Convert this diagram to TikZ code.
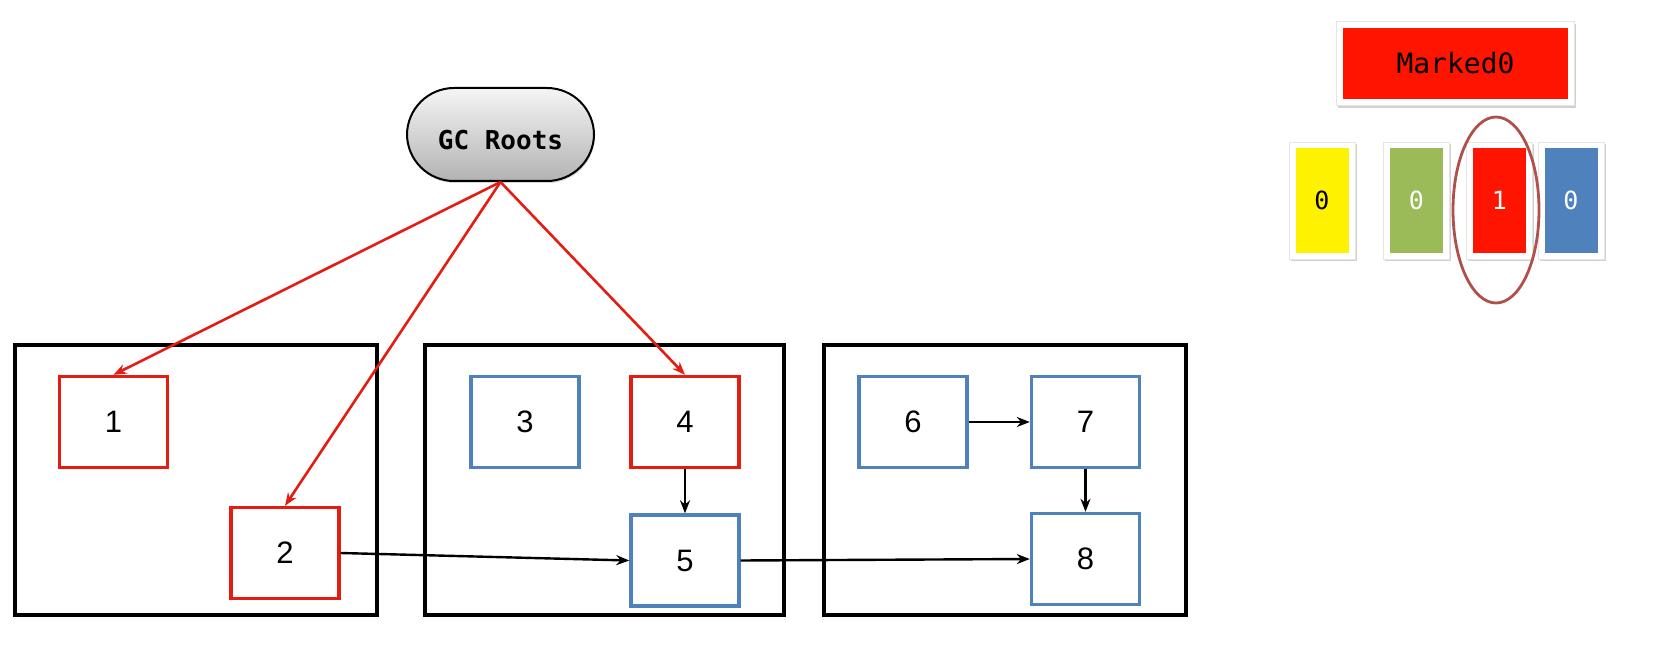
\documentclass[tikz,border=0pt]{standalone}
\usepackage{fontspec}
\setmainfont{Liberation Sans}
\newfontfamily\monofont{DejaVu Sans Mono}
\usetikzlibrary{arrows.meta,shadows}
\definecolor{gcred}{RGB}{228,28,18}
\definecolor{fillred}{RGB}{255,20,0}
\definecolor{gcblue}{RGB}{79,129,189}
\definecolor{gcolive}{RGB}{155,187,89}
\definecolor{gcyellow}{RGB}{255,242,0}
\definecolor{ringcol}{RGB}{175,80,75}
\tikzset{
  region/.style={draw=black,line width=3.8pt,minimum height=270pt},
  obj/.style={draw,line width=3.4pt,minimum width=108pt,minimum height=91pt,font=\fontsize{31}{31}\selectfont,inner sep=0pt},
  live/.style={obj,draw=gcred},
  dead/.style={obj,draw=gcblue},
  refr/.style={draw=gcred,line width=2.6pt,-{Stealth[length=13pt,width=10pt]}},
  refb/.style={draw=black,line width=2.4pt,-{Stealth[length=13pt,width=10pt]}},
  frame/.style={fill=white,draw=white!90!black,line width=0.5pt,drop shadow={shadow xshift=1.5pt,shadow yshift=-2.5pt,opacity=0.35}},
  chip/.style={minimum width=53pt,minimum height=105pt,inner sep=0pt,font=\monofont\fontsize{25}{25}\selectfont},
}
\begin{document}
\begin{tikzpicture}[x=1pt,y=-1pt]
\useasboundingbox[fill=white] (0,0) rectangle (1673,668);
% regions
\node[region,minimum width=362pt] (ra) at (196,480) {};
\node[region,minimum width=359pt] (rb) at (604.5,480) {};
\node[region,minimum width=362pt] (rc) at (1005,480) {};
% objects
\node[live] (n1) at (113.5,422) {1};
\node[live] (n2) at (285,553) {2};
\node[dead] (n3) at (525,422) {3};
\node[live] (n4) at (685,422) {4};
\node[dead] (n5) at (685,560.5) {5};
\node[dead] (n6) at (913,422) {6};
\node[dead] (n7) at (1085.5,422) {7};
\node[dead] (n8) at (1085.5,559) {8};
% GC roots
\node[draw=black,line width=2pt,rounded corners=47pt,minimum width=187pt,minimum height=93pt,
      top color=white!96!black,bottom color=white!70!black,
      drop shadow={shadow xshift=1pt,shadow yshift=-2pt,opacity=0.3},
      text height=30pt,text depth=0pt,
      font=\monofont\bfseries\fontsize{26}{26}\selectfont] (gc) at (500.5,134.5) {GC Roots};
% references
\draw[refr] (gc.south) -- (n1.north);
\draw[refr] (gc.south) -- (n2.north);
\draw[refr] (gc.south) -- (n4.north);
\draw[refb] (n4) -- (n5);
\draw[refb] (n2.east) -- (n5.west);
\draw[refb] (n5.east) -- (n8.west);
\draw[refb] (n6) -- (n7);
\draw[refb] (n7) -- (n8);
% legend
\node[frame,minimum width=238pt,minimum height=84pt] (mf) at (1455.5,63.5) {};
\node[fill=fillred,minimum width=225pt,minimum height=71pt,font=\monofont\fontsize{28}{28}\selectfont] (mk) at (mf) {Marked0};
\node[frame,minimum width=66pt,minimum height=117pt] (fy) at (1322,200.5) {};
\node[chip,fill=gcyellow,text=black] (cy) at (fy) {0};
\node[frame,minimum width=66pt,minimum height=117pt] (fo) at (1416.5,200.5) {};
\node[chip,fill=gcolive,text=white] (co) at (fo) {0};
\node[frame,minimum width=66pt,minimum height=117pt] (fr) at (1499.5,200.5) {};
\node[chip,fill=fillred,text=white] (cr) at (fr) {1};
\node[frame,minimum width=66pt,minimum height=117pt] (fb) at (1571,200.5) {};
\node[chip,fill=gcblue,text=white] (cb) at (fb) {0};
\draw[ringcol,line width=2.8pt] (1496,210) ellipse [x radius=43pt,y radius=93pt];
\end{tikzpicture}
\end{document}
